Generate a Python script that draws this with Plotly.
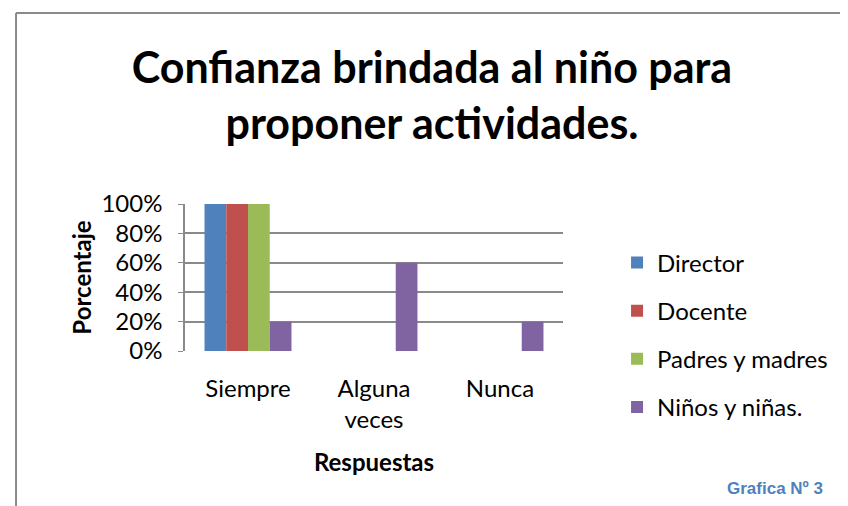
import plotly.graph_objects as go

# respuestas
categorias = ["Siempre", "Alguna<br>veces", "Nunca"]
director = [1.0, 0.0, 0.0]
docente = [1.0, 0.0, 0.0]
padres = [1.0, 0.0, 0.0]
ninos = [0.2, 0.6, 0.2]

series = [("Director", director, "#4f81bd"),
          ("Docente", docente, "#c0504d"),
          ("Padres y madres", padres, "#9bbb59"),
          ("Niños y niñas.", ninos, "#8064a2")]

fig = go.Figure()
for nombre, vals, col in series:
    fig.add_trace(go.Bar(x=categorias, y=vals, name=nombre, legendgroup=nombre,
                         marker=dict(color=col, line=dict(width=0))))

font = "Lato, Calibri, Noto Sans, sans-serif"

fig.update_layout(
    width=848, height=506,
    margin=dict(l=177, r=293, t=196, b=163, autoexpand=False),
    paper_bgcolor="white", plot_bgcolor="white",
    barmode="group", bargap=0.31, bargroupgap=0,
    font=dict(family=font, size=24, color="black"),
    title=dict(text="<b>Confianza brindada al niño para<br>proponer actividades.</b>",
               x=0.5, xanchor="center", y=1 - 75 / 506, yanchor="middle",
               font=dict(size=43, family=font, color="black")),
    legend=dict(x=1.143, xanchor="left", y=0.11, yanchor="middle",
                traceorder="grouped", tracegroupgap=14, maxheight=400,
                font=dict(size=24, family=font), itemwidth=30),
    xaxis=dict(showgrid=False, showline=False, ticks="",
               ticklabelstandoff=21,
               tickfont=dict(size=24),
               title=dict(text="<b>Respuestas</b>", standoff=21, font=dict(size=24))),
    yaxis=dict(range=[0, 1], dtick=0.2, tickformat=".0%",
               showgrid=True, gridcolor="#8a8a8a", gridwidth=1.5,
               showline=True, linecolor="#8a8a8a", linewidth=1.5,
               ticks="outside", ticklen=5, tickcolor="#8a8a8a",
               ticklabelstandoff=11, zeroline=False,
               tickfont=dict(size=24),
               title=dict(text="<b>Porcentaje</b>", standoff=3, font=dict(size=24))),
    showlegend=True,
)

# marco del gráfico (solo bordes visibles: izquierda y arriba)
fig.add_shape(type="line", xref="paper", yref="paper",
              x0=-0.447, x1=-0.447, y0=-2, y1=2.3,
              line=dict(color="#8a8a8a", width=2))
fig.add_shape(type="line", xref="paper", yref="paper",
              x0=-0.447, x1=3, y0=2.3, y1=2.3,
              line=dict(color="#8a8a8a", width=2))

fig.add_annotation(text="<b>Grafica Nº 3</b>", xref="paper", yref="paper",
                   x=(775 - 8 - 177) / 378, y=(343 - 480) / 147,
                   xanchor="center", yanchor="middle",
                   showarrow=False,
                   font=dict(size=17, color="#4f81bd",
                             family="Liberation Sans Narrow, Arial Narrow, sans-serif"))

fig.write_html("out.html")
